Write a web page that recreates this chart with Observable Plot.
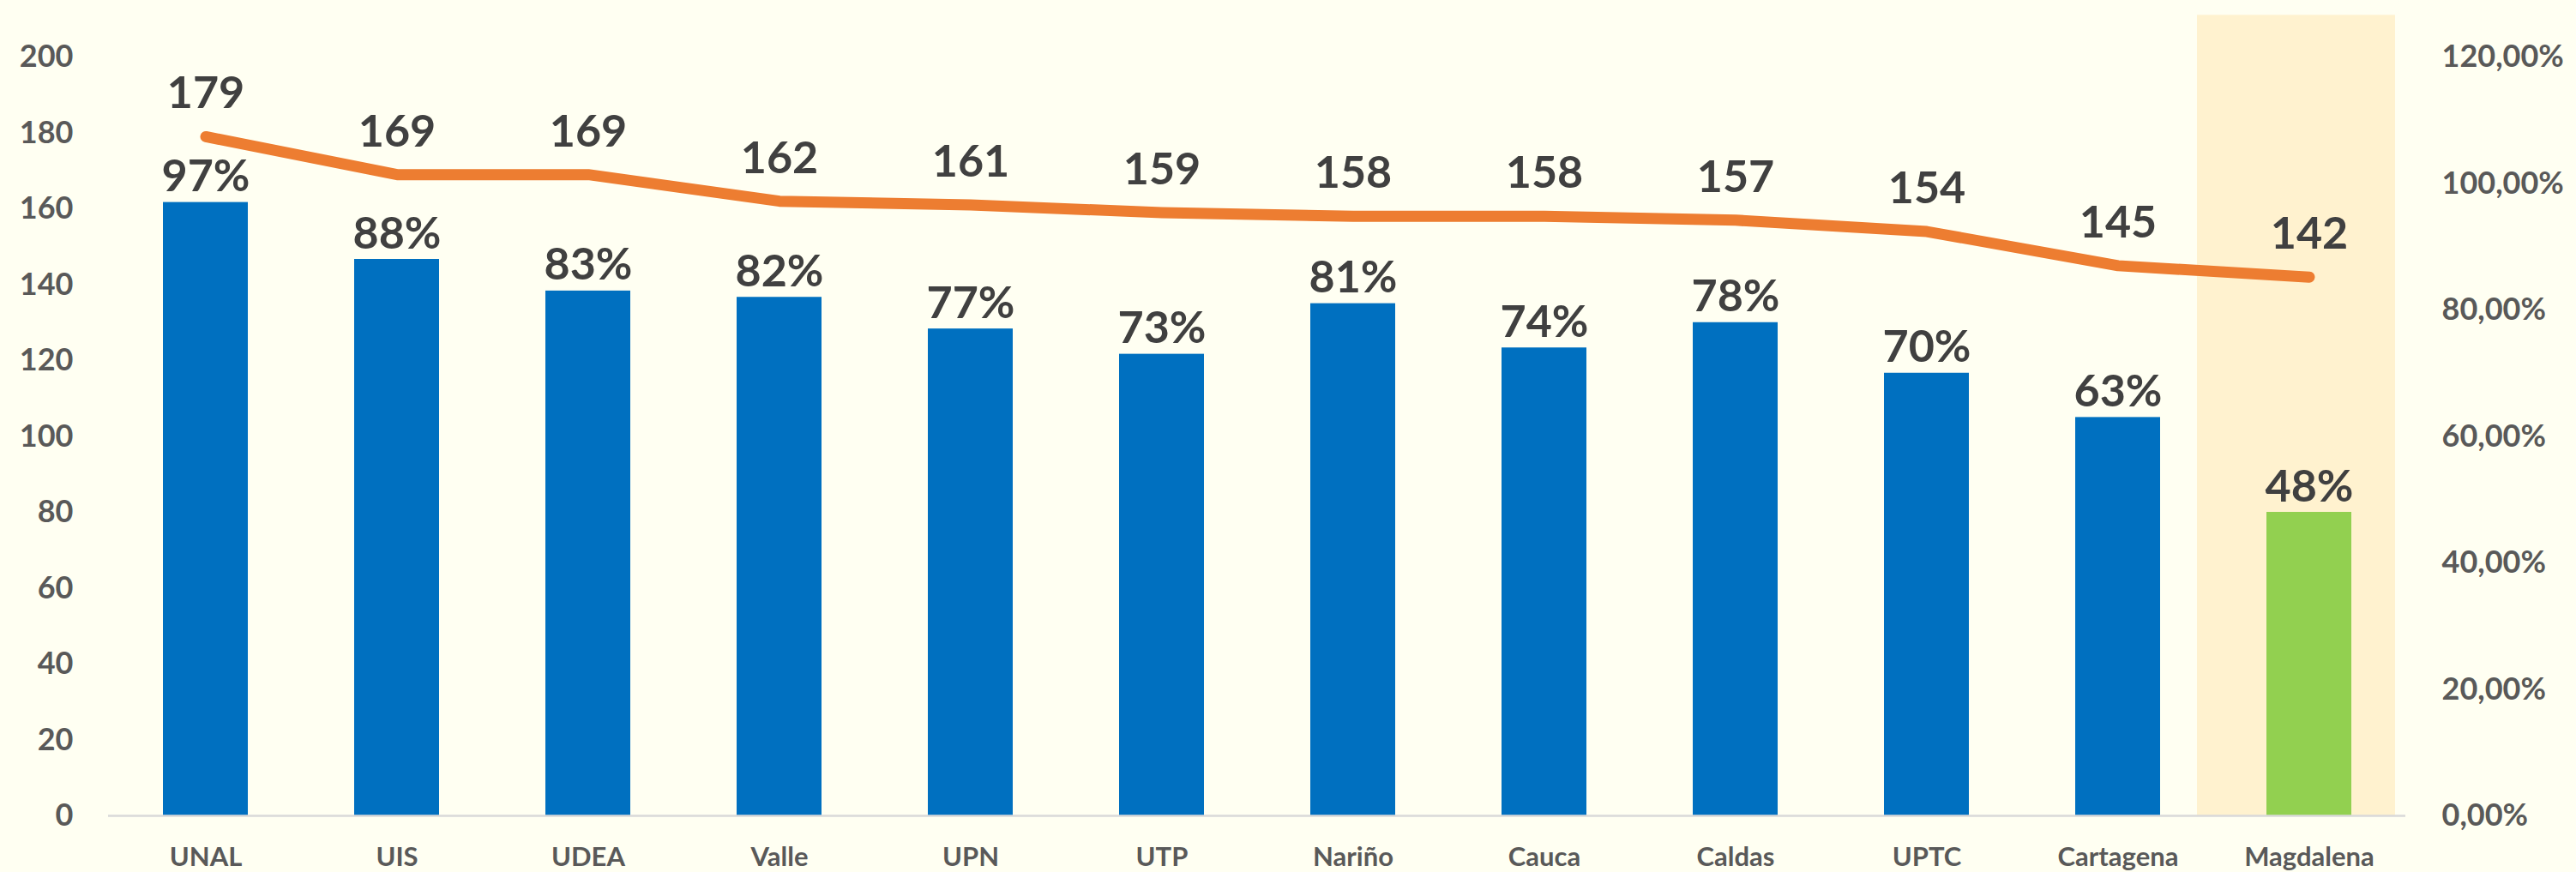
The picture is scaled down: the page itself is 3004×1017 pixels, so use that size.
<!DOCTYPE html>
<html>
<head>
<meta charset="utf-8">
<script src="https://cdn.jsdelivr.net/npm/d3@7"></script>
<script src="https://cdn.jsdelivr.net/npm/@observablehq/plot@0.6"></script>
<style>
  html, body { margin: 0; padding: 0; background: #FFFFF2; }
  #chart svg { display: block; }
</style>
</head>
<body>
<div id="chart"></div>
<script>
const categories = ["UNAL","UIS","UDEA","Valle","UPN","UTP","Nariño","Cauca","Caldas","UPTC","Cartagena","Magdalena"];
const lineValues = [179,169,169,162,161,159,158,158,157,154,145,142];
const barPercents = [97,88,83,82,77,73,81,74,78,70,63,48];
const leftTicks = [0,20,40,60,80,100,120,140,160,180,200];
const rightTicks = [0,20,40,60,80,100,120];
const highlightCategory = "Magdalena";
const highlightTop = 211;

const leftMax = 200, rightMax = 120;
const k = leftMax / rightMax;

const data = categories.map((c, i) => ({
  cat: c,
  n: lineValues[i],
  pct: barPercents[i],
  yb: barPercents[i] * k
}));

const font = "Lato, 'Open Sans', sans-serif";

const chart = Plot.plot({
  width: 3004,
  height: 1017,
  marginLeft: 126,
  marginRight: 199,
  marginTop: 66,
  marginBottom: 66,
  style: { background: "#FFFFF2", fontFamily: font, overflow: "visible" },
  x: { domain: categories, padding: 0, axis: null },
  y: { domain: [0, leftMax], axis: null },
  marks: [
    Plot.barY([{cat: highlightCategory, top: highlightTop}], {x: "cat", y: "top", fill: "#FFF2CF", insetLeft: -19, insetRight: 11}),
    Plot.barY(data.filter(d => d.cat !== highlightCategory), {x: "cat", y: "yb", fill: "#0070C0", insetLeft: 62, insetRight: 62}),
    Plot.barY(data.filter(d => d.cat === highlightCategory), {x: "cat", y: "yb", fill: "#92D050", insetLeft: 62, insetRight: 62}),
    Plot.ruleY([0], {stroke: "#D9D9D9", strokeWidth: 2.5}),
    Plot.line(data, {x: "cat", y: "n", stroke: "#ED7D31", strokeWidth: 13, strokeLinecap: "round", strokeLinejoin: "round"}),
    Plot.text(data, {x: "cat", y: "n", text: d => String(d.n), dy: -33, lineAnchor: "bottom", fontSize: 52, fontWeight: "bold", fill: "#404040"}),
    Plot.text(data, {x: "cat", y: "yb", text: d => d.pct + "%", dy: -13, lineAnchor: "bottom", fontSize: 52, fontWeight: "bold", fill: "#404040"}),
    Plot.axisY(leftTicks, {anchor: "left", tickSize: 0, tickPadding: 41, fontSize: 36, fontWeight: "bold", color: "#595959", label: null}),
    Plot.axisY(rightTicks.map(p => p * k), {anchor: "right", tickSize: 0, tickPadding: 42, fontSize: 36, fontWeight: "bold", color: "#595959", label: null,
      tickFormat: v => (v / k).toFixed(2).replace(".", ",") + "%"}),
    Plot.axisX({tickSize: 0, tickPadding: 36, fontSize: 31, fontWeight: "bold", color: "#595959", label: null})
  ]
});
document.getElementById("chart").appendChild(chart);
</script>
</body>
</html>
